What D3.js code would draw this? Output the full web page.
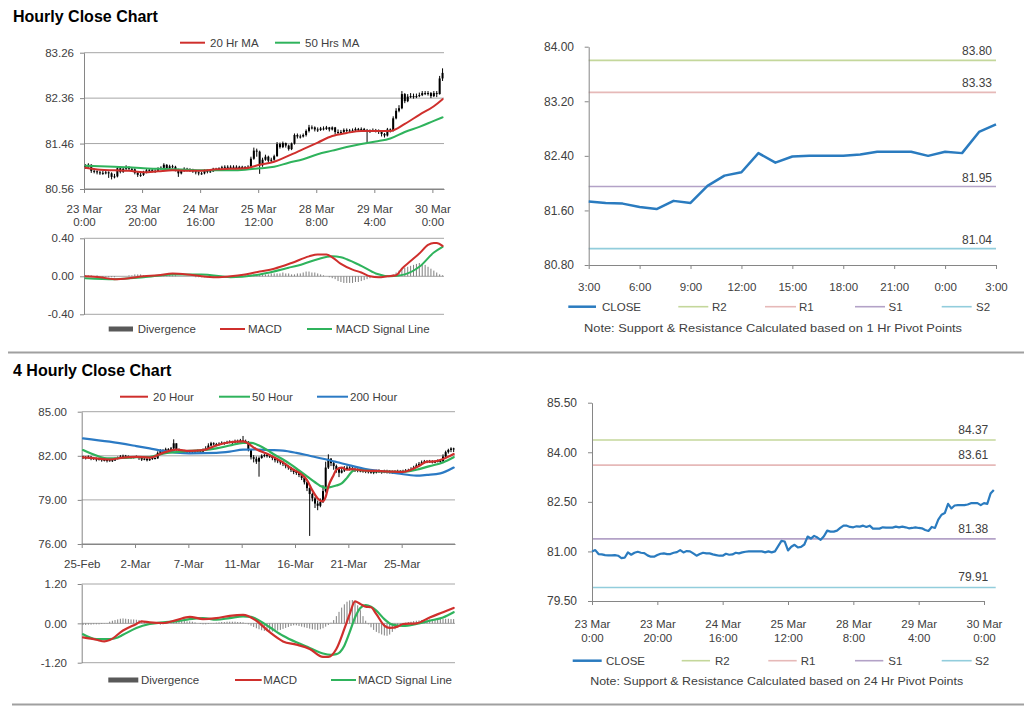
<!DOCTYPE html>
<html><head><meta charset="utf-8">
<script src="https://cdn.jsdelivr.net/npm/d3@7"></script>
<style>body{margin:0;background:#fff}svg{display:block}</style>
</head><body><svg id="c" width="1024" height="706"></svg>
<script>
// ---------------- DATA ----------------
// Hourly closes 23 Mar 0:00 .. 30 Mar 3:00 (124 bars)
const close1h = [
81.00,81.04,80.92,80.91,80.89,80.88,80.88,80.89,80.87,80.80,
80.81,80.97,80.90,80.96,80.99,80.96,80.95,80.88,80.84,80.84,
80.89,80.93,80.94,80.92,80.92,80.96,80.98,81.04,80.97,81.01,
81.00,80.94,80.87,80.92,80.96,80.94,80.94,80.91,80.89,80.87,
80.87,80.93,80.90,80.91,80.96,80.94,80.97,80.99,81.00,81.00,
81.00,81.00,81.00,80.97,81.00,80.97,81.00,81.16,81.32,81.30,
81.03,81.14,81.20,81.12,81.14,81.21,81.45,81.39,81.47,81.42,
81.35,81.46,81.63,81.60,81.60,81.63,81.71,81.78,81.78,81.74,
81.73,81.76,81.75,81.78,81.74,81.78,81.69,81.69,81.69,81.73,
81.72,81.72,81.72,81.75,81.73,81.75,81.73,81.70,81.71,81.73,
81.71,81.70,81.65,81.62,81.74,81.71,81.96,82.11,82.16,82.44,
82.30,82.39,82.40,82.40,82.40,82.42,82.46,82.46,82.46,82.40,
82.46,82.44,82.75,82.86];
const high1h = [
81.05,81.07,81.05,80.95,80.93,80.92,80.92,80.93,80.91,80.89,
80.86,81.00,80.99,80.99,81.03,81.01,80.98,80.97,80.90,80.88,
80.92,80.96,80.97,80.96,80.95,80.99,81.01,81.07,81.05,81.04,
81.04,81.02,80.96,80.95,80.99,80.98,80.97,80.96,80.93,80.91,
80.90,80.95,80.95,80.94,80.98,80.98,80.99,81.02,81.03,81.03,
81.03,81.03,81.03,81.02,81.02,81.01,81.03,81.20,81.38,81.36,
81.32,81.18,81.24,81.22,81.18,81.24,81.49,81.48,81.50,81.48,
81.44,81.48,81.66,81.66,81.64,81.66,81.74,81.83,81.82,81.80,
81.78,81.79,81.80,81.81,81.79,81.80,81.79,81.74,81.73,81.76,
81.76,81.75,81.76,81.78,81.77,81.78,81.77,81.75,81.74,81.76,
81.75,81.74,81.72,81.67,81.77,81.76,82.00,82.16,82.22,82.50,
82.46,82.44,82.46,82.45,82.45,82.47,82.50,82.50,82.50,82.48,
82.50,82.50,82.80,82.95];
const low1h = [
80.96,80.98,80.88,80.87,80.85,80.84,80.84,80.85,80.78,80.75,
80.77,80.79,80.87,80.88,80.93,80.92,80.91,80.85,80.80,80.80,
80.82,80.87,80.90,80.89,80.88,80.90,80.94,80.96,80.94,80.95,
80.97,80.91,80.80,80.85,80.90,80.91,80.90,80.88,80.85,80.83,
80.84,80.85,80.87,80.88,80.90,80.92,80.93,80.96,80.97,80.97,
80.97,80.97,80.97,80.95,80.95,80.94,80.95,80.99,81.14,81.20,
80.86,81.00,81.12,81.08,81.09,81.12,81.20,81.36,81.37,81.38,
81.32,81.33,81.44,81.56,81.56,81.58,81.60,81.68,81.74,81.70,
81.69,81.71,81.72,81.73,81.70,81.72,81.64,81.65,81.64,81.67,
81.68,81.68,81.68,81.70,81.69,81.71,81.69,81.48,81.67,81.69,
81.68,81.65,81.60,81.58,81.60,81.68,81.70,81.94,82.08,82.14,
82.26,82.28,82.36,82.35,82.36,82.38,82.40,82.42,82.41,82.36,
82.38,82.38,82.43,82.70];
const open1hFirst = 81.02;

const ma20hIdx = [0,5,10,15,20,25,30,35,40,45,50,55,60,65,70,75,80,85,90,95,100,105,110,115,120,123];
const ma20hVal = [80.98,80.94,80.93,80.92,80.89,80.91,80.93,80.92,80.92,80.95,80.96,80.97,81.04,81.10,81.22,81.35,81.48,81.61,81.67,81.71,81.71,81.71,81.85,82.03,82.20,82.34];
const ma50hIdx = [0,5,10,15,20,25,30,35,40,45,50,55,60,65,70,75,80,85,90,95,100,105,110,115,120,123];
const ma50hVal = [81.02,81.01,81.00,80.99,80.97,80.96,80.95,80.94,80.93,80.93,80.93,80.94,80.97,81.00,81.08,81.15,81.25,81.32,81.39,81.45,81.50,81.56,81.69,81.79,81.91,81.98];

const macd1hIdx = [0,5,10,15,20,25,30,35,40,45,50,55,60,65,71,77,80,83,85,88,92,95,98,101,104,107,109,112,115,118,120,121,123];
const macd1hVal = [0.00,-0.01,-0.03,-0.02,0.00,0.01,0.03,0.02,0.00,-0.01,0.00,0.02,0.05,0.08,0.14,0.21,0.23,0.23,0.20,0.13,0.07,0.04,0.00,-0.01,0.00,0.01,0.08,0.16,0.24,0.33,0.35,0.35,0.32];
const sig1hIdx = [0,10,20,30,40,50,60,70,75,80,85,88,90,95,100,105,110,115,120,123];
const sig1hVal = [-0.02,-0.03,-0.01,0.02,0.02,-0.01,0.02,0.09,0.13,0.18,0.21,0.20,0.18,0.11,0.03,0.00,0.02,0.10,0.25,0.31];
const div1h = [
0.01,0.01,0.01,0.00,0.01,0.00,-0.01,-0.01,-0.01,-0.01,
-0.01,0.00,0.00,0.00,0.00,0.01,0.01,0.02,0.02,0.02,
0.01,0.01,0.01,0.01,0.00,0.00,0.01,0.01,0.01,0.01,
0.01,0.01,0.00,0.00,0.00,0.00,0.00,0.00,-0.01,-0.01,
-0.01,-0.01,-0.01,-0.01,-0.01,0.00,0.00,0.00,0.00,0.00,
0.00,0.00,0.00,0.01,0.01,0.01,0.01,0.02,0.02,0.02,
0.02,0.02,0.02,0.02,0.03,0.03,0.03,0.03,0.04,0.03,
0.03,0.02,0.02,0.03,0.03,0.04,0.05,0.05,0.04,0.04,
0.03,0.02,0.01,0.00,-0.01,-0.02,-0.03,-0.05,-0.06,-0.07,
-0.07,-0.07,-0.07,-0.06,-0.06,-0.05,-0.04,-0.03,-0.02,-0.01,
-0.01,0.00,0.00,0.00,0.00,0.01,0.02,0.04,0.06,0.08,
0.09,0.10,0.11,0.12,0.13,0.14,0.13,0.12,0.10,0.08,
0.06,0.04,0.02,0.01];

const hourTicks = [0,20,40,60,80,100,120];
const hourTickL1 = ["23 Mar","23 Mar","24 Mar","25 Mar","28 Mar","29 Mar","30 Mar"];
const hourTickL2 = ["0:00","20:00","16:00","12:00","8:00","4:00","0:00"];
const tlYTicks = [80.56,81.46,82.36,83.26];
const tmYTicks = [-0.40,0.00,0.40];

// Top-right: last 25 hourly closes, 3:00 .. 3:00
const trStart = 99;
const trTickIdx = [0,3,6,9,12,15,18,21,24];
const trTickLab = ["3:00","6:00","9:00","12:00","15:00","18:00","21:00","0:00","3:00"];
const trYTicks = [80.80,81.60,82.40,83.20,84.00];
const trLevels = [83.80,83.33,81.95,81.04];

// Bottom-right: 24 Hr pivots
const brYTicks = [79.50,81.00,82.50,84.00,85.50];
const brLevels = [84.37,83.61,81.38,79.91];
const levelNames = ["R2","R1","S1","S2"];

// 4-hourly data, 140 bars
const close4h = [
81.90,81.85,81.95,81.80,81.85,81.75,81.80,81.70,81.72,81.65,
81.70,81.68,81.80,81.85,81.95,82.00,81.98,81.95,81.90,81.92,
81.95,81.90,81.75,81.80,81.70,81.78,81.85,81.82,82.20,82.35,
82.30,82.45,82.40,82.50,82.85,82.45,82.35,82.30,82.30,82.25,
82.30,82.25,82.30,82.35,82.28,82.40,82.50,82.70,82.85,82.80,
82.75,82.82,82.88,82.85,82.92,82.95,82.90,83.00,82.98,83.05,
83.00,82.95,82.40,81.90,81.80,81.60,81.85,82.00,82.05,82.00,
81.95,81.85,81.70,81.65,81.55,81.45,81.30,81.20,81.05,80.90,
80.85,80.70,80.50,80.20,79.80,79.40,79.10,78.75,78.60,78.85,
79.60,81.20,81.80,81.50,81.30,81.10,80.85,81.00,81.10,81.20,
81.15,81.10,81.05,81.00,81.00,80.98,80.95,80.92,80.90,80.88,
80.92,80.95,80.90,80.93,80.92,80.90,80.88,80.90,80.92,80.90,
80.95,80.98,81.00,81.10,81.20,81.35,81.45,81.55,81.62,81.60,
81.62,81.58,81.60,81.65,81.62,81.95,82.25,82.40,82.50,82.45];
const high4h = [
82.00,81.98,82.02,81.95,81.92,81.88,81.88,81.82,81.80,81.78,
81.80,81.78,81.88,81.95,82.05,82.08,82.06,82.02,81.98,81.98,
82.02,81.98,81.95,81.88,81.85,81.85,81.92,81.90,82.30,82.45,
82.45,82.55,82.52,82.60,83.12,82.85,82.50,82.42,82.40,82.35,
82.38,82.35,82.38,82.42,82.40,82.50,82.65,82.85,82.95,82.92,
82.88,82.92,82.98,82.95,83.02,83.05,83.02,83.10,83.10,83.15,
83.35,83.10,83.00,82.45,82.05,81.95,81.95,82.10,82.15,82.12,
82.08,82.00,81.90,81.80,81.72,81.62,81.50,81.38,81.25,81.10,
81.00,80.92,80.78,80.55,80.25,79.85,79.50,79.20,78.95,79.10,
80.00,81.60,82.10,81.85,81.60,81.40,81.20,81.20,81.30,81.35,
81.30,81.25,81.20,81.15,81.12,81.10,81.08,81.05,81.02,81.00,
81.05,81.08,81.02,81.05,81.05,81.02,81.00,81.02,81.05,81.02,
81.05,81.10,81.12,81.22,81.32,81.48,81.58,81.68,81.72,81.70,
81.72,81.70,81.70,81.75,81.72,82.10,82.35,82.48,82.58,82.55];
const low4h = [
81.78,81.75,81.80,81.70,81.72,81.62,81.68,81.60,81.62,81.55,
81.60,81.58,81.65,81.75,81.80,81.90,81.90,81.85,81.80,81.82,
81.85,81.72,81.65,81.70,81.62,81.65,81.72,81.75,81.80,82.15,
82.20,82.25,82.30,82.35,82.45,82.35,82.25,82.22,82.20,82.15,
82.20,82.15,82.20,82.25,82.20,82.25,82.38,82.45,82.65,82.70,
82.65,82.70,82.78,82.75,82.82,82.85,82.80,82.88,82.88,82.92,
82.90,82.85,82.30,81.75,81.55,81.45,80.58,81.80,81.90,81.88,
81.85,81.70,81.55,81.50,81.40,81.30,81.15,81.05,80.90,80.75,
80.70,80.55,80.35,80.05,79.60,76.55,78.90,78.45,78.30,78.50,
78.80,79.50,81.10,81.30,81.05,80.85,80.55,80.80,80.90,81.05,
81.00,80.95,80.90,80.88,80.88,80.85,80.82,80.80,80.78,80.75,
80.80,80.85,80.78,80.82,80.80,80.80,80.78,80.80,80.82,80.80,
80.85,80.88,80.90,80.95,81.05,81.18,81.32,81.42,81.50,81.50,
81.52,81.48,81.50,81.55,81.52,81.60,81.90,82.15,82.25,82.25];
const open4hFirst = 81.95;

const ma20_4Idx = [0,5,10,15,20,25,30,35,40,45,50,55,60,65,70,75,78,81,84,86,88,90,91,92,94,95,97,99,101,105,110,115,120,123,126,129,132,135,139];
const ma20_4Val = [81.90,81.82,81.75,81.88,81.93,81.88,82.20,82.42,82.33,82.38,82.70,82.92,82.98,82.45,82.05,81.55,81.15,80.85,80.35,79.65,79.10,78.90,79.20,79.90,80.70,81.05,81.20,81.05,81.10,81.00,80.97,80.93,80.90,81.05,81.30,81.60,81.62,81.78,82.12];
const ma50_4Idx = [0,3,6,9,15,20,25,30,35,40,45,50,55,60,63,66,69,72,75,78,81,84,87,89,91,93,95,97,99,101,103,105,110,115,120,125,130,135,139];
const ma50_4Val = [82.39,82.15,81.95,81.83,81.85,81.90,81.92,82.15,82.25,82.33,82.38,82.50,82.70,82.88,82.88,82.70,82.40,82.05,81.75,81.40,81.00,80.60,80.20,79.95,79.82,79.88,79.98,80.12,80.50,80.95,81.05,81.00,80.95,80.92,80.90,81.05,81.30,81.55,81.90];
const ma200_4Idx = [0,10,20,25,30,35,40,50,55,60,65,70,75,80,85,90,95,100,106,112,118,125,129,134,139];
const ma200_4Val = [83.19,82.96,82.66,82.50,82.33,82.22,82.17,82.20,82.28,82.42,82.43,82.39,82.35,82.20,82.00,81.80,81.58,81.35,81.10,80.95,80.80,80.65,80.70,80.80,81.20];

const macd4Idx = [0,5,8,10,15,20,22,25,30,35,40,45,50,55,60,65,70,75,80,85,90,92,95,98,100,102,104,106,108,110,113,115,118,120,125,130,135,139];
const macd4Val = [-0.43,-0.50,-0.55,-0.51,-0.22,-0.02,0.06,0.03,0.01,0.10,0.20,0.13,0.16,0.23,0.26,0.08,-0.27,-0.55,-0.65,-0.78,-1.02,-1.02,-0.78,-0.17,0.28,0.67,0.59,0.51,0.49,0.28,-0.07,-0.14,-0.10,-0.02,0.00,0.18,0.34,0.47];
const sig4Idx = [0,5,10,13,15,20,25,30,35,40,45,50,55,60,63,65,70,75,80,85,90,93,95,98,100,102,104,106,108,110,113,116,120,125,130,135,139];
const sig4Val = [-0.33,-0.48,-0.48,-0.43,-0.35,-0.14,-0.02,0.03,0.06,0.13,0.16,0.11,0.16,0.21,0.20,0.13,-0.12,-0.38,-0.58,-0.75,-0.92,-0.96,-0.94,-0.68,-0.27,0.18,0.47,0.56,0.51,0.39,0.13,-0.04,-0.08,-0.02,0.08,0.18,0.34];
const div4h = [
-0.05,-0.05,-0.04,-0.04,-0.03,-0.03,-0.03,-0.02,-0.01,0.01,
0.05,0.08,0.10,0.12,0.14,0.15,0.14,0.13,0.12,0.12,
0.11,0.10,0.08,0.06,0.04,0.03,0.02,0.01,-0.02,-0.04,
-0.03,-0.02,0.00,0.02,0.04,0.05,0.06,0.07,0.07,0.06,
0.06,0.05,0.03,0.00,-0.02,-0.03,-0.03,-0.02,-0.01,0.01,
0.02,0.03,0.04,0.04,0.05,0.05,0.05,0.05,0.04,0.04,
0.03,0.01,-0.03,-0.07,-0.11,-0.15,-0.18,-0.21,-0.23,-0.24,
-0.25,-0.25,-0.24,-0.22,-0.20,-0.17,-0.14,-0.11,-0.08,-0.06,
-0.06,-0.08,-0.10,-0.12,-0.14,-0.16,-0.18,-0.19,-0.20,-0.18,
-0.15,-0.10,-0.05,0.02,0.10,0.22,0.35,0.48,0.58,0.66,
0.70,0.71,0.66,0.55,0.40,0.22,0.08,-0.03,-0.12,-0.20,
-0.26,-0.30,-0.34,-0.37,-0.38,-0.34,-0.26,-0.18,-0.10,-0.04,
0.00,0.02,0.04,0.05,0.07,0.08,0.09,0.10,0.11,0.12,
0.12,0.13,0.13,0.13,0.14,0.14,0.14,0.14,0.13,0.13];

const fourTicks = [0,20,40,60,80,100,120];
const fourTickLab = ["25-Feb","2-Mar","7-Mar","11-Mar","16-Mar","21-Mar","25-Mar"];
const blYTicks = [76,79,82,85];
const bmYTicks = [-1.20,0.00,1.20];

// ---------------- STYLE ----------------
const FONT = '"Liberation Sans", Arial, Helvetica, sans-serif';
const TXT = '#404040', GRID = '#a6a6a6', AXIS = '#868686';
const RED = '#cf2f2c', GREEN = '#2fb35c', BLUE = '#2b7ac4';
const CLOSEC = '#2a7bbf';
const levelColors = ['#c4d79b','#e6b9b8','#b3a2c7','#92cddc'];
const FS = 11.5;
const fmt2 = d => d.toFixed(2);

const svg = d3.select('#c');
svg.append('rect').attr('width',1024).attr('height',706).attr('fill','#fff');

function txt(x,y,s,o={}){
  return svg.append('text').attr('x',x).attr('y',y).text(s)
    .attr('font-family',FONT).attr('font-size',o.fs||FS).attr('fill',o.fill||TXT)
    .attr('font-weight',o.fw||'normal').attr('text-anchor',o.anchor||'start');
}
function hline(x1,x2,y,c,w){ svg.append('line').attr('x1',x1).attr('x2',x2).attr('y1',y).attr('y2',y).attr('stroke',c).attr('stroke-width',w); }
function yAxis(scale,ticks,xPos,labelRight,fmt){
  const ax = d3.axisLeft(scale).tickValues(ticks).tickFormat(fmt).tickSize(4).tickSizeOuter(0);
  const a = svg.append('g').attr('transform',`translate(${xPos},0)`).call(ax);
  a.select('.domain').attr('stroke',AXIS);
  a.selectAll('.tick line').attr('stroke',AXIS);
  a.selectAll('.tick text').attr('fill',TXT).attr('font-size',FS).attr('font-family',FONT).attr('x',labelRight-xPos);
  return a;
}
function xAxis(scale,ticks,yPos,l1,l2,y1,y2){
  const ax = d3.axisBottom(scale).tickValues(ticks).tickFormat('').tickSize(4).tickSizeOuter(0);
  const a = svg.append('g').attr('transform',`translate(0,${yPos})`).call(ax);
  a.select('.domain').attr('stroke',AXIS);
  a.selectAll('.tick line').attr('stroke',AXIS);
  a.selectAll('.tick').each(function(d,i){
    const g = d3.select(this);
    g.append('text').attr('y',y1).attr('text-anchor','middle').attr('font-family',FONT).attr('font-size',FS).attr('fill',TXT).text(l1[i]);
    if(l2) g.append('text').attr('y',y2).attr('text-anchor','middle').attr('font-family',FONT).attr('font-size',FS).attr('fill',TXT).text(l2[i]);
  });
}
function series(idx,vals,xs,ys,off,color,w){
  const pts = idx.map((d,k)=>({x:xs(d+off),y:ys(vals[k])}));
  svg.append('path').attr('d',d3.line().x(d=>d.x).y(d=>d.y).curve(d3.curveMonotoneX)(pts))
    .attr('fill','none').attr('stroke',color).attr('stroke-width',w).attr('stroke-linejoin','round').attr('stroke-linecap','round');
}
function candles(close,high,low,open0,xs,ys,bw){
  const g = svg.append('g');
  close.forEach((c,i)=>{
    const o = i===0?open0:close[i-1];
    const cx = xs(i+0.5);
    g.append('line').attr('x1',cx).attr('x2',cx).attr('y1',ys(high[i])).attr('y2',ys(low[i])).attr('stroke','#000').attr('stroke-width',1);
    const yt = ys(Math.max(o,c)), yb = ys(Math.min(o,c));
    g.append('rect').attr('x',cx-bw/2).attr('y',yt).attr('width',bw).attr('height',Math.max(1,yb-yt)).attr('fill','#000');
  });
}
function divBars(div,xs,ys){
  const g = svg.append('g');
  div.forEach((v,i)=>{
    if(v===0) return;
    g.append('line').attr('x1',xs(i+0.5)).attr('x2',xs(i+0.5)).attr('y1',ys(0)).attr('y2',ys(v)).attr('stroke','#7f7f7f').attr('stroke-width',1);
  });
}
function legLine(x1,x2,y,c,label,tx,w){
  svg.append('line').attr('x1',x1).attr('x2',x2).attr('y1',y).attr('y2',y).attr('stroke',c).attr('stroke-width',w||2);
  txt(tx,y+4,label);
}
function legRect(x1,x2,y,label,tx){
  svg.append('rect').attr('x',x1).attr('y',y-2.5).attr('width',x2-x1).attr('height',5).attr('fill','#595959');
  txt(tx,y+4,label);
}

// ---------------- TITLES & SEPARATORS ----------------
txt(13,21.5,'Hourly Close Chart',{fs:16,fw:'bold',fill:'#000'});
txt(13,376,'4 Hourly Close Chart',{fs:16,fw:'bold',fill:'#000'});
hline(8,1024,352.5,'#a0a0a0',2);
hline(12,1024,704.5,'#a0a0a0',2);

// ---------------- TOP-LEFT: hourly candles ----------------
const xTL = d3.scaleLinear().domain([0,124]).range([84,444]);
const yTL = d3.scaleLinear().domain([80.56,83.26]).range([189,52.7]);
tlYTicks.slice(1).forEach(v=>hline(84,444,yTL(v),GRID,1));
hline(84,444,yTL(80.56),AXIS,1);
yAxis(yTL,tlYTicks,84,74,fmt2);
xAxis(xTL,hourTicks,189,hourTickL1,hourTickL2,23.5,37);
candles(close1h,high1h,low1h,open1hFirst,xTL,yTL,2);
series(ma50hIdx,ma50hVal,xTL,yTL,0.5,GREEN,2);
series(ma20hIdx,ma20hVal,xTL,yTL,0.5,RED,2);
legLine(180,205,42.7,RED,'20 Hr MA',210);
legLine(275,300,42.7,GREEN,'50 Hrs MA',305);

// ---------------- TOP-LEFT MACD ----------------
const yTM = d3.scaleLinear().domain([-0.4,0.4]).range([314.3,238.3]);
hline(84,444,yTM(0.4),GRID,1);
hline(84,444,yTM(-0.4),GRID,1);
hline(84,444,yTM(0),GRID,1);
yAxis(yTM,tmYTicks,84,74,fmt2);
divBars(div1h,xTL,yTM);
series(sig1hIdx,sig1hVal,xTL,yTM,0.5,GREEN,2);
series(macd1hIdx,macd1hVal,xTL,yTM,0.5,RED,2);
legRect(108.7,133,329,'Divergence',137.7);
legLine(220,245,329,RED,'MACD',248);
legLine(307,332,329,GREEN,'MACD Signal Line',335.7);

// ---------------- TOP-RIGHT ----------------
const xTR = d3.scaleLinear().domain([0,24]).range([588.7,996]);
const yTR = d3.scaleLinear().domain([80.8,84]).range([265,46.7]);
trLevels.forEach((v,k)=>{
  hline(588.7,996,yTR(v),levelColors[k],1.6);
  txt(992,yTR(v)-5,v.toFixed(2),{fs:12,anchor:'end'});
});
yAxis(yTR,trYTicks,588.7,574,fmt2).selectAll('.tick text').attr('font-size',12);
xAxis(xTR,trTickIdx,265,trTickLab,null,25.5,0);
const trClose = close1h.slice(trStart);
svg.append('path').attr('d',d3.line().x((d,i)=>xTR(i)).y(d=>yTR(d))(trClose))
  .attr('fill','none').attr('stroke',CLOSEC).attr('stroke-width',2.5).attr('stroke-linejoin','round');
legLine(568.3,596,306.7,CLOSEC,'CLOSE',602,2.5);
const trLegX = [[678.3,708.3,712],[765,796,799],[855,885,888.5],[941.7,971.7,976]];
levelNames.forEach((n,k)=>legLine(trLegX[k][0],trLegX[k][1],306.7,levelColors[k],n,trLegX[k][2],1.6));
txt(773,331.5,'Note: Support & Resistance Calculated based on 1 Hr Pivot Points',{anchor:'middle'}).attr('textLength',378).attr('lengthAdjust','spacingAndGlyphs');

// ---------------- BOTTOM-LEFT: 4 hourly candles ----------------
const xBL = d3.scaleLinear().domain([0,140]).range([81.7,455]);
const yBL = d3.scaleLinear().domain([76,85]).range([544,411.7]);
blYTicks.slice(1).forEach(v=>hline(81.7,455,yBL(v),GRID,1));
hline(81.7,455,yBL(76),AXIS,1);
yAxis(yBL,blYTicks,81.7,67,fmt2);
xAxis(xBL,fourTicks,544,fourTickLab,null,23.5,0);
candles(close4h,high4h,low4h,open4hFirst,xBL,yBL,2);
series(ma200_4Idx,ma200_4Val,xBL,yBL,0.5,BLUE,2.2);
series(ma50_4Idx,ma50_4Val,xBL,yBL,0.5,GREEN,2.2);
series(ma20_4Idx,ma20_4Val,xBL,yBL,0.5,RED,2.2);
legLine(120,148,396.7,RED,'20 Hour',153);
legLine(219,250,396.7,GREEN,'50 Hour',252);
legLine(317,348,396.7,BLUE,'200 Hour',350);

// ---------------- BOTTOM-LEFT MACD ----------------
const yBM = d3.scaleLinear().domain([-1.2,1.2]).range([662.7,584]);
hline(81.7,455,yBM(1.2),GRID,1);
hline(81.7,455,yBM(-1.2),GRID,1);
hline(81.7,455,yBM(0),GRID,1);
yAxis(yBM,bmYTicks,81.7,67,fmt2);
divBars(div4h,xBL,yBM);
series(sig4Idx,sig4Val,xBL,yBM,0.5,GREEN,2.2);
series(macd4Idx,macd4Val,xBL,yBM,0.5,RED,2.2);
legRect(108.3,138.3,680,'Divergence',141);
legLine(235,261.7,680,RED,'MACD',263.3);
legLine(331,356,680,GREEN,'MACD Signal Line',358);

// ---------------- BOTTOM-RIGHT ----------------
const xBR = d3.scaleLinear().domain([0,120]).range([592,984]);
const yBR = d3.scaleLinear().domain([79.5,85.5]).range([601,402.7]);
brLevels.forEach((v,k)=>{
  hline(592,995.7,yBR(v),levelColors[k],1.6);
  txt(988.3,yBR(v)-6,v.toFixed(2),{fs:12,anchor:'end'});
});
yAxis(yBR,brYTicks,592,577,fmt2).selectAll('.tick text').attr('font-size',12);
xAxis(xBR,hourTicks,601,hourTickL1,hourTickL2,26.5,41);
svg.append('path').attr('d',d3.line().x((d,i)=>xBR(i)).y(d=>yBR(d))(close1h))
  .attr('fill','none').attr('stroke',CLOSEC).attr('stroke-width',2.2).attr('stroke-linejoin','round');
legLine(572.7,601.7,660.7,CLOSEC,'CLOSE',606,2.5);
const brLegX = [[681.7,710,715],[768.3,796.7,800.7],[855,883.3,888.3],[941.7,971.7,975]];
levelNames.forEach((n,k)=>legLine(brLegX[k][0],brLegX[k][1],660.7,levelColors[k],n,brLegX[k][2],1.6));
txt(776.7,685,'Note: Support & Resistance Calculated based on 24 Hr Pivot Points',{anchor:'middle'}).attr('textLength',373).attr('lengthAdjust','spacingAndGlyphs');
</script></body></html>
